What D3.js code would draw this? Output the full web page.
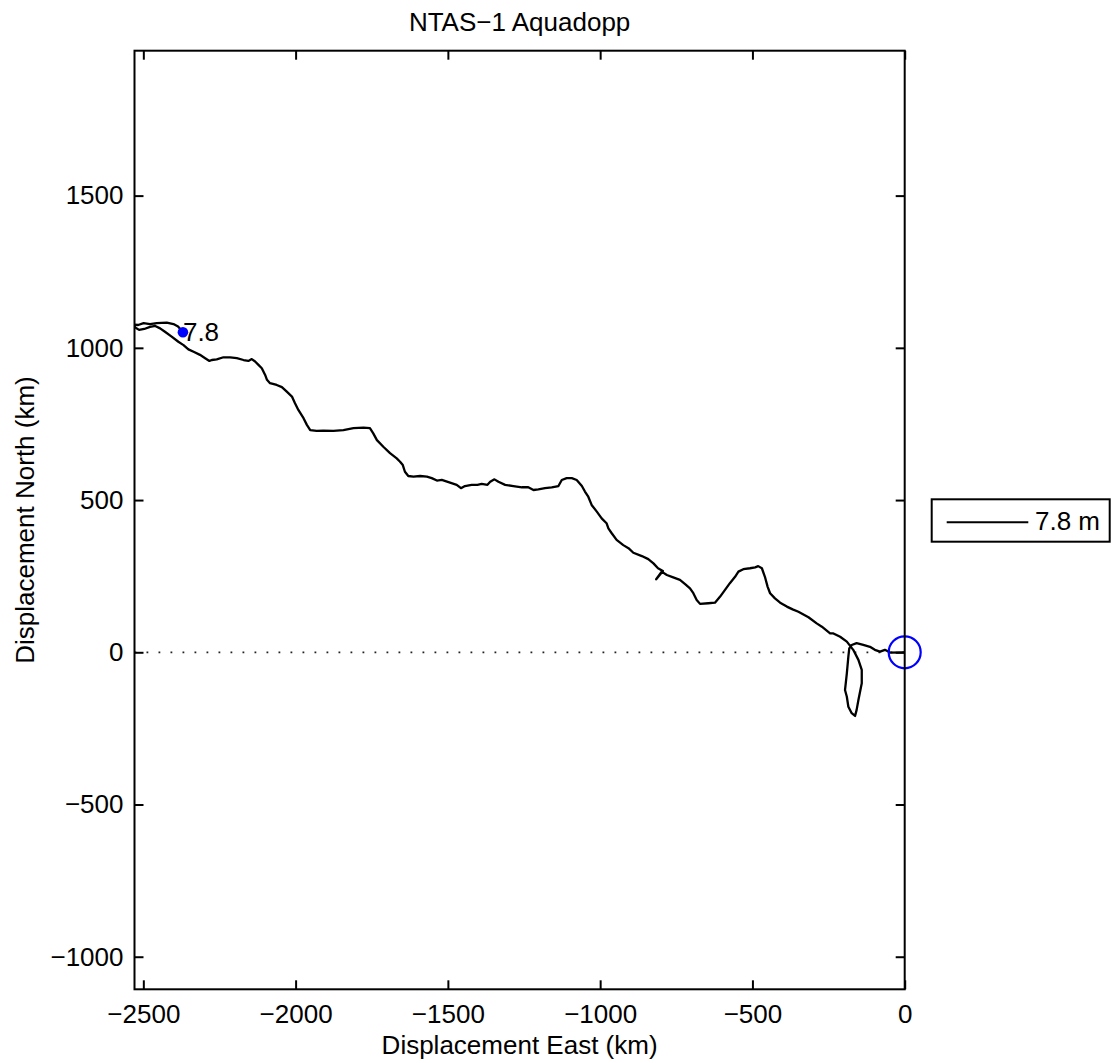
<!DOCTYPE html>
<html>
<head>
<meta charset="utf-8">
<script src="https://cdn.jsdelivr.net/npm/d3@7"></script>
<style>
  html, body { margin: 0; padding: 0; background: #fff; }
  svg { display: block; font-family: "Liberation Sans", Arial, Helvetica, sans-serif; }
</style>
</head>
<body>
<svg id="chart" width="1111" height="1063"></svg>
<script>
// Progressive vector displacement of the NTAS-1 Aquadopp record (km), from the origin westward.
const trackEast = [
  0, -48, -65, -81, -98, -114, -136, -158, -174, -182, -185, -190, -196, -190, -185, -174, -163,
  -158, -152, -141, -141, -152, -169, -190, -212, -234, -245, -272, -289, -316, -349, -368, -387,
  -409, -426, -442, -450, -459, -469, -481, -491, -508, -530, -546, -557, -574, -590, -606, -623,
  -645, -672, -683, -694, -705, -721, -738, -760, -781, -798, -816, -794, -810, -825, -842, -863,
  -891, -907, -924, -946, -962, -973, -979, -995, -1011, -1028, -1039, -1050, -1060, -1077, -1093,
  -1110, -1126, -1137, -1159, -1181, -1203, -1219, -1236, -1257, -1285, -1312, -1334, -1347, -1361,
  -1370, -1389, -1403, -1422, -1444, -1457, -1471, -1493, -1520, -1536, -1553, -1569, -1591, -1613,
  -1630, -1641, -1648, -1657, -1668, -1690, -1712, -1733, -1745, -1756, -1777, -1810, -1843, -1876,
  -1909, -1931, -1952, -1963, -1974, -1991, -2002, -2012, -2029, -2045, -2062, -2084, -2094, -2100,
  -2111, -2122, -2133, -2144, -2155, -2171, -2193, -2215, -2237, -2259, -2275, -2283, -2297, -2314,
  -2335, -2352, -2368, -2385, -2407, -2429, -2445, -2461, -2478, -2497, -2514, -2524, -2535, -2517,
  -2499, -2478, -2456, -2423, -2401, -2386, -2370
];
const trackNorth = [
  0, -1, 8, 2, 8, 18, 24, 30, 24, 13, -14, -69, -124, -146, -179, -200, -209,
  -190, -157, -102, -58, -25, 8, 35, 51, 62, 62, 84, 95, 115, 133, 141, 150,
  163, 177, 194, 215, 248, 276, 283, 279, 276, 273, 265, 248, 227, 205, 183, 163,
  161, 159, 172, 194, 210, 224, 238, 246, 254, 265, 240, 267, 276, 292, 306, 316,
  327, 342, 352, 369, 391, 407, 424, 440, 462, 484, 511, 528, 546, 566, 572,
  572, 566, 546, 542, 539, 535, 533, 542, 542, 546, 550, 560, 568, 560,
  550, 553, 550, 550, 546, 539, 550, 557, 566, 564, 572, 577, 579, 577,
  579, 593, 615, 626, 637, 654, 675, 697, 719, 736, 738, 736, 730, 727,
  728, 727, 730, 747, 769, 796, 818, 840, 856, 871, 878, 884, 895, 911,
  933, 944, 955, 963, 957, 960, 966, 969, 969, 962, 960, 957, 966, 977,
  987, 995, 1009, 1020, 1037, 1053, 1064, 1072, 1069, 1062, 1059, 1065, 1077, 1075,
  1081, 1078, 1081, 1083, 1078, 1070, 1051
];

const seriesLabel = "7.8";
const legendLabels = ["7.8 m"];
const xTicks = [-2500, -2000, -1500, -1000, -500, 0];
const yTicks = [-1000, -500, 0, 500, 1000, 1500];
const xDomain = [-2529, 0];
const yDomain = [-1107, 1976];

const titleText = "NTAS\u22121 Aquadopp";
const xLabelText = "Displacement East (km)";
const yLabelText = "Displacement North (km)";

const frame = { left: 134.5, right: 904.7, top: 50.7, bottom: 989.3 };
const FONT = 26;

const svg = d3.select("#chart");
const x = d3.scaleLinear().domain(xDomain).range([frame.left, frame.right]);
const y = d3.scaleLinear().domain(yDomain).range([frame.bottom, frame.top]);

svg.append("defs").append("clipPath").attr("id", "plotClip")
  .append("rect")
  .attr("x", frame.left).attr("y", frame.top)
  .attr("width", frame.right - frame.left).attr("height", frame.bottom - frame.top);

const plot = svg.append("g").attr("clip-path", "url(#plotClip)");

// zero-north reference line
plot.append("line")
  .attr("x1", x(xDomain[0])).attr("x2", x(0))
  .attr("y1", y(0)).attr("y2", y(0))
  .attr("stroke", "#222").attr("stroke-width", 1.8)
  .attr("stroke-dasharray", "1.8,10.2");

const pts = trackEast.map((e, i) => [e, trackNorth[i]]);
const line = d3.line().x(d => x(d[0])).y(d => y(d[1]));

plot.append("path")
  .datum(pts)
  .attr("d", line)
  .attr("fill", "none")
  .attr("stroke", "#000")
  .attr("stroke-width", 2.3)
  .attr("stroke-linejoin", "round");

// start marker at the origin
svg.append("circle")
  .attr("cx", x(0)).attr("cy", y(0)).attr("r", 16)
  .attr("fill", "none").attr("stroke", "#0000ff").attr("stroke-width", 2.2);

// end marker with depth label
const last = pts[pts.length - 1];
svg.append("circle")
  .attr("cx", x(last[0])).attr("cy", y(last[1])).attr("r", 5.3)
  .attr("fill", "#0000ff");
svg.append("text")
  .attr("x", x(last[0])).attr("y", y(last[1]) + 9)
  .attr("font-size", FONT).attr("fill", "#000")
  .text(seriesLabel);

// axes with inward ticks on all four sides
const tickLen = 9;
const fmt = d3.format("d");
const gx = svg.append("g").attr("transform", `translate(0,${frame.bottom})`)
  .call(d3.axisBottom(x).tickValues(xTicks).tickFormat(fmt).tickSizeInner(-tickLen).tickSizeOuter(0).tickPadding(15));
const gy = svg.append("g").attr("transform", `translate(${frame.left},0)`)
  .call(d3.axisLeft(y).tickValues(yTicks).tickFormat(fmt).tickSizeInner(-tickLen).tickSizeOuter(0).tickPadding(11));
const gxt = svg.append("g").attr("transform", `translate(0,${frame.top})`)
  .call(d3.axisTop(x).tickValues(xTicks).tickSizeInner(-tickLen).tickSizeOuter(0).tickFormat(""));
const gyr = svg.append("g").attr("transform", `translate(${frame.right},0)`)
  .call(d3.axisRight(y).tickValues(yTicks).tickSizeInner(-tickLen).tickSizeOuter(0).tickFormat(""));

[gx, gy, gxt, gyr].forEach(g => {
  g.select(".domain").remove();
  g.selectAll(".tick line").attr("stroke", "#000").attr("stroke-width", 2);
  g.selectAll(".tick text")
    .attr("font-size", FONT)
    .attr("font-family", "\"Liberation Sans\", Arial, Helvetica, sans-serif")
    .attr("fill", "#000");
});

svg.append("rect")
  .attr("x", frame.left).attr("y", frame.top)
  .attr("width", frame.right - frame.left).attr("height", frame.bottom - frame.top)
  .attr("fill", "none").attr("stroke", "#000").attr("stroke-width", 2);

// titles
const cx = (frame.left + frame.right) / 2;
const cy = (frame.top + frame.bottom) / 2;
svg.append("text").attr("x", cx).attr("y", 30.5)
  .attr("text-anchor", "middle").attr("font-size", FONT).text(titleText);
svg.append("text").attr("x", cx).attr("y", 1053.5)
  .attr("text-anchor", "middle").attr("font-size", FONT).text(xLabelText);
svg.append("text")
  .attr("transform", `translate(34,${cy}) rotate(-90)`)
  .attr("text-anchor", "middle").attr("font-size", FONT).text(yLabelText);

// legend
const legend = svg.append("g");
legend.append("rect")
  .attr("x", 931.7).attr("y", 499.3).attr("width", 178).attr("height", 42.4)
  .attr("fill", "#fff").attr("stroke", "#000").attr("stroke-width", 2);
legend.append("line")
  .attr("x1", 946.7).attr("x2", 1028.3).attr("y1", 522.3).attr("y2", 522.3)
  .attr("stroke", "#000").attr("stroke-width", 2);
legend.append("text")
  .attr("x", 1035).attr("y", 530).attr("font-size", FONT)
  .text(legendLabels[0]);
</script>
</body>
</html>
